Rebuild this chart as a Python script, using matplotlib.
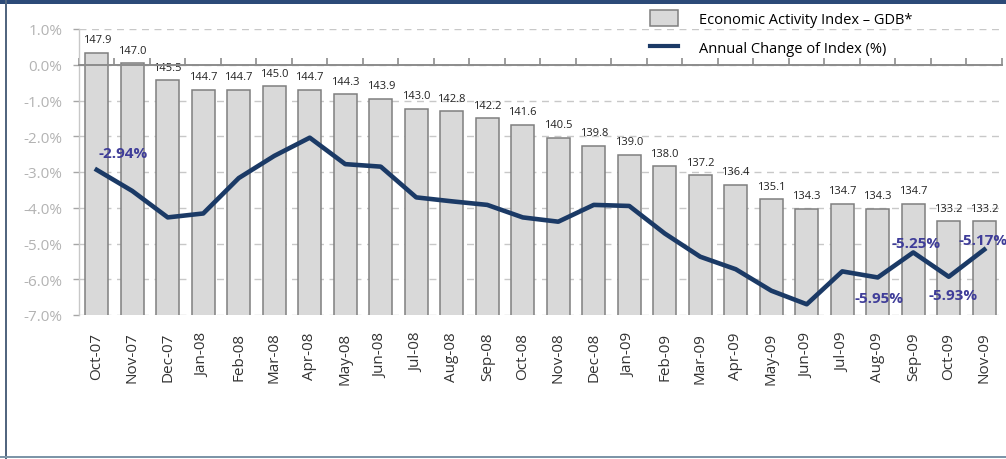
import numpy as np
import matplotlib
matplotlib.use("Agg")
import matplotlib.pyplot as plt
from matplotlib.patches import Patch, Rectangle
from matplotlib.lines import Line2D

plt.rcParams['font.family'] = ['Open Sans', 'DejaVu Sans']

months = ["Oct-07", "Nov-07", "Dec-07", "Jan-08", "Feb-08", "Mar-08", "Apr-08",
          "May-08", "Jun-08", "Jul-08", "Aug-08", "Sep-08", "Oct-08", "Nov-08",
          "Dec-08", "Jan-09", "Feb-09", "Mar-09", "Apr-09", "May-09", "Jun-09",
          "Jul-09", "Aug-09", "Sep-09", "Oct-09", "Nov-09"]

# economic activity index (bars, hidden scale)
index_vals = [147.9, 147.0, 145.5, 144.7, 144.7, 145.0, 144.7, 144.3, 143.9,
              143.0, 142.8, 142.2, 141.6, 140.5, 139.8, 139.0, 138.0, 137.2,
              136.4, 135.1, 134.3, 134.7, 134.3, 134.7, 133.2, 133.2]

# annual change of the index in % (line, left scale)
annual_chg = [-2.94, -3.53, -4.27, -4.16, -3.17, -2.55, -2.04, -2.78, -2.85,
              -3.71, -3.82, -3.92, -4.27, -4.39, -3.92, -3.95, -4.72, -5.37,
              -5.72, -6.32, -6.70, -5.78, -5.95, -5.25, -5.93, -5.17]

# which points of the line get a label, and where
chg_labels = {0: (1, 12, 'left'), 22: (1, -15, 'center'), 23: (2, 7, 'center'),
              24: (3, -13, 'center'), 25: (-1, 7, 'center')}

bar_face = "#d9d9d9"
bar_edge = "#7f7f7f"
line_col = "#1b3a66"
lbl_col = "#3f3d99"
axis_gray = "#a6a6a6"

fig = plt.figure(figsize=(10.06, 4.6), dpi=100)
fig.patch.set_facecolor("white")

x = np.arange(len(months))

# bars sit on the primary axes so the dashed grid stays behind them
ax = fig.add_axes([79 / 1006, 1 - 316 / 460, 923 / 1006, 286 / 460])
ax.bar(x, index_vals, width=0.64, color=bar_face, edgecolor=bar_edge,
       linewidth=1.1, zorder=2)
ax.set_ylim(125, 150)
ax.set_xlim(-0.5, len(months) - 0.5)
ax.set_yticks(np.linspace(125, 150, 9))
ax.set_yticklabels([])
ax.tick_params(axis='y', length=0)
ax.grid(axis='y', color="#c8c8c8", linestyle=(0, (5, 4)), linewidth=1.0, zorder=0)
ax.set_axisbelow(True)
for s in ax.spines.values():
    s.set_visible(False)
for xi, v in zip(x, index_vals):
    ax.annotate(f"{v:.1f}", (xi, v), xytext=(0, 5.5), textcoords='offset points',
                ha='center', va='bottom', fontsize=8, color="#222222", zorder=3)

# month names under the plot, boundary ticks on the 0 % line (minor)
ax.set_xticks(x)
ax.set_xticklabels(months, rotation=90, fontsize=11, color="#333333")
ax.set_xticks(np.arange(-0.5, len(months), 1.0), minor=True)
ax.tick_params(axis='x', which='major', length=0, pad=12)
ax.tick_params(axis='x', which='minor', bottom=False, top=False)

# percent scale on top, shown on the left
ax2 = ax.twinx()
ax2.patch.set_visible(False)
ax2.xaxis.set_visible(True)
ax2.set_ylim(-7.0, 1.0)
ax2.set_yticks(np.arange(-7, 1.01, 1.0))
ax2.set_yticklabels([f"{t:.1f}%" for t in np.arange(-7, 1.01, 1.0)])
ax2.yaxis.set_ticks_position('left')
ax2.tick_params(axis='y', direction='out', length=4, width=1, color=axis_gray,
                labelsize=11, labelcolor="#b3b3b3", pad=8)
for side in ('right', 'bottom'):
    ax2.spines[side].set_visible(False)
ax2.spines['left'].set_visible(True)
ax2.spines['left'].set_color("#c8c8c8")
ax2.spines['left'].set_linewidth(1.0)

# category axis crosses at 0 %
ax2.spines['top'].set_position(('data', 0))
ax2.spines['top'].set_color("#8c8c8c")
ax2.spines['top'].set_linewidth(1.4)
ax2.tick_params(axis='x', which='major', top=False, bottom=False,
                labelbottom=False, labeltop=False)
ax2.tick_params(axis='x', which='minor', top=True, bottom=False,
                direction='out', length=5, width=1.2, color="#8c8c8c")

ax2.plot(x, annual_chg, color=line_col, linewidth=3.3, solid_joinstyle='round',
         zorder=4, clip_on=False)
for i, (dx, dy, ha) in chg_labels.items():
    ax2.annotate(f"{annual_chg[i]:.2f}%", (x[i], annual_chg[i]), xytext=(dx, dy),
                 textcoords='offset points', ha=ha, va='center', fontsize=11,
                 fontweight='bold', color=lbl_col, zorder=5,
                 annotation_clip=False)

handles = [Patch(facecolor=bar_face, edgecolor=bar_edge, linewidth=1.1),
           Line2D([0], [0], color=line_col, linewidth=3.0)]
fig.legend(handles, ["Economic Activity Index \u2013 GDB*", "Annual Change of Index (%)"],
           loc='upper left', bbox_to_anchor=(643 / 1006, 1 - 4 / 460),
           frameon=False, fontsize=10.5, borderpad=0, handlelength=1.9,
           handleheight=1.3, handletextpad=1.45, labelspacing=0.85)

# outer frame
fig.add_artist(Rectangle((0, 1 - 5 / 460), 1, 5 / 460, transform=fig.transFigure,
                         facecolor="#2c4a78", edgecolor='none'))
fig.add_artist(Rectangle((5 / 1006, 0), 2 / 1006, 1, transform=fig.transFigure,
                         facecolor="#52667f", edgecolor='none'))
fig.add_artist(Rectangle((0, 1 / 460), 1, 2 / 460, transform=fig.transFigure,
                         facecolor="#7d95a8", edgecolor='none'))

fig.savefig("out.png", dpi=100)
